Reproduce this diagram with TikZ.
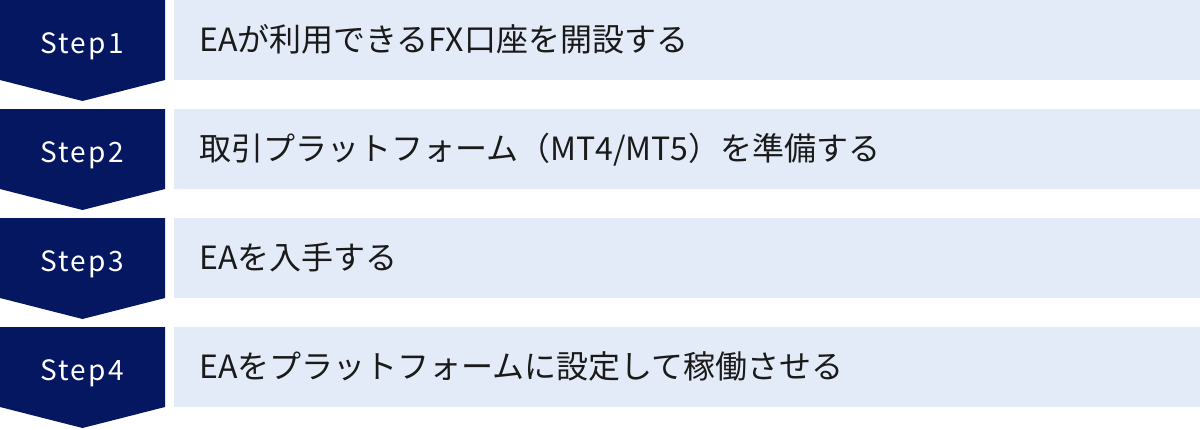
\documentclass[tikz,border=0pt]{standalone}
\usepackage{fontspec}
\newfontfamily\jpfont{Noto Sans CJK JP}
\newfontfamily\stepfont[LetterSpace=8]{Noto Sans CJK JP}
\definecolor{navy}{RGB}{6,23,97}
\definecolor{lightbg}{RGB}{228,235,248}
\definecolor{txt}{RGB}{26,26,26}
\tikzset{
  stepshape/.style={fill=navy, draw=none},
  barshape/.style={fill=lightbg, draw=none},
  steplabel/.style={anchor=base, inner sep=0pt, text=white, font=\stepfont\fontsize{28pt}{32pt}\selectfont},
  bartext/.style={anchor=base west, inner sep=0pt, text=txt, font=\jpfont\fontsize{32pt}{36pt}\selectfont},
}
\begin{document}
\begin{tikzpicture}[x=1pt,y=-1pt]
\useasboundingbox (0,0) rectangle (1200,429);
\foreach \i/\lab/\txt in {0/Step1/{EAが利用できるFX口座を開設する},
                          1/Step2/{取引プラットフォーム（MT4/MT5）を準備する},
                          2/Step3/{EAを入手する},
                          3/Step4/{EAをプラットフォームに設定して稼働させる}}{
  \pgfmathsetmacro{\t}{109*\i}
  \fill[stepshape] (0,\t) -- (165,\t) -- (165,\t+80) -- (82.5,\t+101) -- (0,\t+80) -- cycle;
  \fill[barshape] (174,\t) rectangle (1200,\t+80);
  \node[steplabel] (s\i) at (82,\t+53) {\lab};
  \node[bartext] (t\i) at (199,\t+51) {\txt};
}
\end{tikzpicture}
\end{document}
